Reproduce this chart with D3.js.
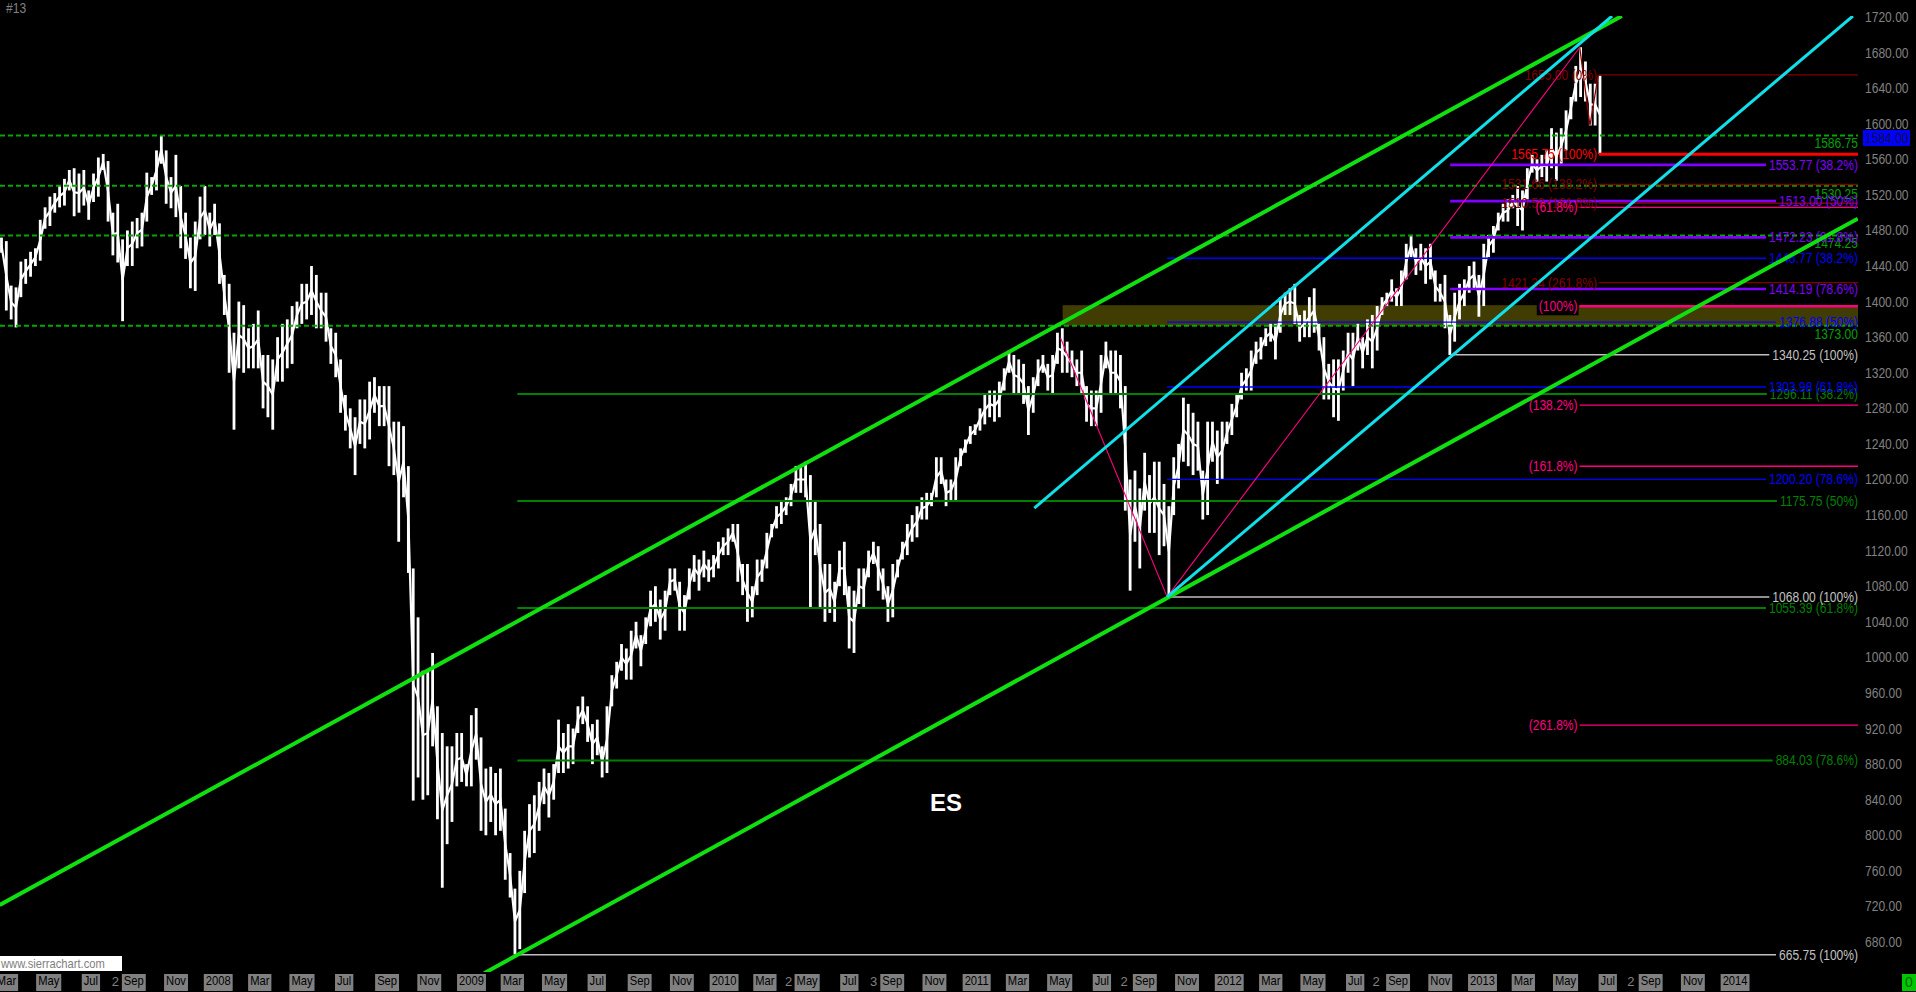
<!DOCTYPE html>
<html><head><meta charset="utf-8">
<script src="https://cdn.jsdelivr.net/npm/d3@7"></script>
<style>
html,body{margin:0;padding:0;background:#000;overflow:hidden}
svg{display:block}
text{font-family:"Liberation Sans",Arial,sans-serif}
</style></head><body>
<svg id="c" width="1916" height="992"></svg>
<script>
// ---------------- DATA ----------------
// weekly [high, low] of ES, one array per year; first Monday of each list below
const yearFirstWeek = ["2007-02-19","2008-01-07","2009-01-05","2010-01-04","2011-01-03","2012-01-02","2012-12-31"];
const bars2007 = [[1472,1455],[1468,1390],[1418,1380],[1416,1371],[1445,1405],[1448,1420],[1456,1428],[1460,1440],[1492,1446],[1506,1482],[1518,1485],[1522,1500],[1531,1506],[1538,1508],[1548,1525],[1550,1496],[1544,1500],[1548,1508],[1525,1492],[1544,1512],[1562,1518],[1566,1548],[1558,1490],[1500,1452],[1510,1444],[1470,1378],[1480,1440],[1490,1440],[1494,1460],[1500,1462],[1545,1490],[1540,1520],[1570,1525],[1587,1555],[1570,1510],[1540,1505],[1565,1495],[1530,1460],[1500,1448],[1472,1415],[1490,1412],[1518,1470],[1530,1475],[1500,1462],[1510,1475],[1488,1420]];
const bars2008 = [[1430,1385],[1420,1320],[1365,1256],[1400,1325],[1396,1320],[1370,1325],[1375,1325],[1390,1325],[1340,1280],[1340,1270],[1335,1256],[1360,1310],[1375,1310],[1380,1325],[1395,1330],[1400,1370],[1420,1375],[1420,1380],[1440,1385],[1430,1370],[1410,1370],[1410,1355],[1370,1330],[1365,1315],[1335,1275],[1295,1255],[1280,1235],[1270,1205],[1290,1240],[1290,1235],[1310,1245],[1315,1275],[1305,1260],[1305,1260],[1305,1215],[1265,1205],[1265,1130],[1260,1180],[1215,1095],[1100,839],[1045,865],[985,840],[985,845],[1005,900],[945,818],[915,741],[900,790],[900,815],[915,855],[915,860],[880,855],[935,855]];
const bars2009 = [[943,885],[910,805],[875,800],[877,815],[870,800],[875,805],[830,750],[780,730],[740,666],[760,672],[805,735],[835,775],[845,780],[860,805],[875,835],[870,820],[880,840],[930,870],[915,870],[925,875],[920,880],[945,915],[956,925],[945,905],[925,880],[930,890],[900,865],[945,870],[980,945],[995,965],[1015,985],[1010,975],[1030,975],[1040,1010],[1025,990],[1045,1015],[1075,1035],[1080,1040],[1065,1020],[1075,1030],[1100,1070],[1100,1075],[1085,1030],[1070,1030],[1100,1065],[1115,1085],[1110,1075],[1120,1090],[1110,1085],[1115,1090],[1130,1100],[1135,1115]];
const bars2010 = [[1145,1115],[1150,1130],[1150,1085],[1105,1070],[1105,1040],[1080,1045],[1110,1070],[1110,1085],[1140,1100],[1150,1135],[1170,1145],[1175,1150],[1180,1160],[1195,1170],[1215,1185],[1215,1185],[1220,1180],[1205,1056],[1175,1115],[1150,1055],[1105,1040],[1105,1050],[1085,1040],[1120,1080],[1130,1070],[1080,1010],[1075,1005],[1100,1060],[1100,1055],[1120,1090],[1130,1105],[1125,1075],[1100,1065],[1080,1040],[1105,1045],[1110,1090],[1130,1110],[1150,1115],[1160,1130],[1170,1135],[1180,1155],[1185,1155],[1185,1170],[1225,1180],[1225,1195],[1200,1170],[1200,1175],[1225,1175],[1235,1215],[1245,1230],[1260,1240],[1262,1250]];
const bars2011 = [[1280,1255],[1295,1262],[1300,1270],[1300,1265],[1310,1270],[1325,1300],[1345,1320],[1340,1295],[1335,1295],[1330,1285],[1305,1250],[1315,1275],[1335,1305],[1340,1320],[1330,1300],[1340,1295],[1365,1330],[1370,1320],[1355,1320],[1345,1315],[1335,1305],[1345,1295],[1305,1265],[1300,1260],[1300,1260],[1340,1275],[1355,1325],[1345,1295],[1345,1295],[1340,1280],[1305,1165],[1200,1075],[1210,1130],[1190,1100],[1230,1165],[1205,1140],[1220,1140],[1220,1115],[1195,1125],[1170,1068],[1225,1160],[1240,1190],[1292,1220],[1285,1215],[1275,1205],[1265,1210],[1210,1155],[1265,1160],[1265,1220],[1255,1195],[1265,1200],[1265,1240]];
const bars2012 = [[1285,1250],[1295,1270],[1320,1290],[1325,1300],[1345,1300],[1355,1330],[1360,1335],[1370,1350],[1375,1355],[1375,1335],[1405,1365],[1410,1385],[1415,1385],[1420,1375],[1385,1355],[1390,1360],[1405,1360],[1415,1365],[1375,1345],[1360,1290],[1330,1290],[1335,1270],[1335,1266],[1345,1300],[1365,1320],[1365,1305],[1375,1345],[1360,1325],[1380,1340],[1385,1325],[1395,1345],[1405,1385],[1410,1395],[1425,1400],[1415,1395],[1435,1395],[1465,1425],[1475,1450],[1460,1430],[1465,1435],[1460,1420],[1465,1425],[1435,1400],[1420,1400],[1430,1370],[1385,1340],[1410,1355],[1420,1380],[1425,1395],[1440,1410],[1445,1415],[1430,1383]];
const bars2013 = [[1465,1395],[1475,1450],[1485,1455],[1500,1480],[1510,1490],[1515,1490],[1520,1505],[1530,1485],[1525,1480],[1550,1515],[1565,1545],[1560,1535],[1565,1540],[1570,1535],[1595,1550],[1590,1536],[1595,1555],[1615,1570],[1630,1605],[1665,1625],[1686,1630],[1670,1625],[1645,1598],[1645,1598],[1654,1566]];
const lastPrice = 1584.00;

const yTicks = [1720,1680,1640,1600,1560,1520,1480,1440,1400,1360,1320,1280,1240,1200,1160,1120,1080,1040,1000,960,920,880,840,800,760,720,680];
const minorTickDates = ["2007-08-06","2010-04-05","2010-08-06","2011-08-03","2012-08-01","2013-08-04"];
const minorTickText = ["2","2","3","2","2","2"];

const dashedLevels = [1586.75, 1530.25, 1474.25, 1373.00];

const fibPct = ["38.2%","50%","61.8%","78.6%","100%"];
const fibGreen = [1296.11, 1175.75, 1055.39, 884.03, 665.75];
const fibBlue = [1448.77, 1376.88, 1303.98, 1200.20, 1068.00];
const fibPurple = [1553.77, 1513.00, 1472.23, 1414.19, 1340.25];
const fibStart = ["2009-03-09", "2011-10-04", "2012-11-16"];

const extRedPct = ["0%","100%","138.2%","161.8%","261.8%"];
const extRed = [1655.00, 1565.75, 1531.66, 1510.59, 1421.34];
const extRedStart = "2013-06-19";
const extPinkPct = ["61.8%","100%","138.2%","161.8%","261.8%"];
const extPink = [1505.9, 1394.75, 1283.6, 1214.9, 923.9];
const extPinkStart = "2013-05-22";

const zoneStart = "2011-05-06", zoneLow = 1373, zoneHigh = 1396;

const greenUpper = [["2007-02-20", 721.6], ["2013-07-22", 1721.1]];
const greenLower = [["2009-01-20", 645.0], ["2014-06-28", 1493.3]];
const cyanUpper = [["2011-03-26", 1167.9], ["2013-07-08", 1721.1]];
const cyanLower = [["2011-10-04", 1068.0], ["2014-06-21", 1721.1]];
const pinkZig = [["2011-05-03", 1359], ["2011-10-04", 1068], ["2013-05-22", 1685.75]];
const redZig = [["2013-05-22", 1687.25], ["2013-06-06", 1598], ["2013-06-18", 1655]];

// ---------------- CHART ----------------
const W = 1916, H = 992, plotRight = 1858, plotTop = 16, plotBottom = 972;
const K = 0.86; // horizontal condensing of the chart font
const parse = d3.timeParse("%Y-%m-%d");
const fmt2 = d3.format(".2f");
const x = d3.scaleTime().domain([new Date(2009,0,1), new Date(2013,0,1)]).range([471, 1482]);
const y = d3.scaleLinear().domain([680, 1720]).range([942, 17]);
const FS = "14px";

function narrow(t){
  const L = t.node().getComputedTextLength();
  t.attr("textLength", L*K).attr("lengthAdjust","spacingAndGlyphs");
  return L*K;
}

const weeks = [];
[bars2007,bars2008,bars2009,bars2010,bars2011,bars2012,bars2013].forEach((arr,k)=>{
  const d0 = parse(yearFirstWeek[k]);
  arr.forEach((hl,i)=>weeks.push({date:d3.timeDay.offset(d0,7*i), hi:hl[0], lo:hl[1]}));
});
const mid = d => (x(d.date) + x(d3.timeDay.offset(d.date,7))) / 2;

const svg = d3.select("#c");
svg.append("rect").attr("width",W).attr("height",H).attr("fill","#000");
svg.append("defs").append("clipPath").attr("id","plot").append("rect")
  .attr("x",0).attr("y",plotTop).attr("width",plotRight).attr("height",plotBottom-plotTop);
const plot = svg.append("g").attr("clip-path","url(#plot)");

// zone
const zx = x(parse(zoneStart));
plot.append("rect").attr("x",zx).attr("y",y(zoneHigh)).attr("width",plotRight-zx)
  .attr("height",y(zoneLow)-y(zoneHigh)).attr("fill","#403c02");

// price: weekly high-low bars joined by a mid line
const pg = plot.append("g");
pg.append("path")
  .attr("d", d3.line().x(mid).y(d=>y((d.hi+d.lo)/2))(weeks))
  .attr("fill","none").attr("stroke","#fff").attr("stroke-width",2.2);
pg.selectAll("rect").data(weeks).join("rect")
  .attr("x",d=>mid(d)-1.4).attr("width",2.8)
  .attr("y",d=>y(d.hi)).attr("height",d=>Math.max(1,y(d.lo)-y(d.hi)))
  .attr("fill","#ffffff");

const line = d3.line().x(d=>x(parse(d[0]))).y(d=>y(d[1]));
plot.append("path").attr("d",line(redZig)).attr("fill","none").attr("stroke","#900000").attr("stroke-width",1.3);

const hl = plot.append("g");
const labels = svg.append("g").attr("font-size",FS);

// dashed levels
dashedLevels.forEach(v=>{
  hl.append("line").attr("x1",0).attr("x2",plotRight).attr("y1",y(v)).attr("y2",y(v))
    .attr("stroke","#00a800").attr("stroke-width",2).attr("stroke-dasharray","5,3");
  narrow(labels.append("text").attr("x",plotRight).attr("y",y(v)+8).attr("dy","0.35em")
    .attr("text-anchor","end").attr("fill","#00a000").text(fmt2(v)));
});

// retracements
const fibSets = [
  {levels:fibGreen, start:fibStart[0], color:"#008000", width:2},
  {levels:fibBlue, start:fibStart[1], color:"#0000ff", width:1.3},
  {levels:fibPurple, start:fibStart[2], color:"#8000ff", width:2.6}
];
fibSets.forEach(s=>{
  s.levels.forEach((v,i)=>{
    const base = i===s.levels.length-1;
    const col = base ? "#c0c0c0" : s.color;
    const t = labels.append("text").attr("x",plotRight).attr("y",y(v)).attr("dy","0.35em")
      .attr("text-anchor","end").attr("fill",col).text(`${fmt2(v)} (${fibPct[i]})`);
    const len = narrow(t);
    hl.append("line").attr("x1",x(parse(s.start))).attr("x2",plotRight-len-3)
      .attr("y1",y(v)).attr("y2",y(v)).attr("stroke",col).attr("stroke-width",base?1.5:s.width);
  });
});

// extensions
const extSets = [
  {levels:extRed, pct:extRedPct, start:extRedStart, value:true, color:"#800000", main:"#ff0000", mainW:3},
  {levels:extPink, pct:extPinkPct, start:extPinkStart, value:false, color:"#ff0080", main:"#ff0080", mainW:2.5}
];
extSets.forEach(s=>{
  const sx = x(parse(s.start));
  s.levels.forEach((v,i)=>{
    const isMain = s.pct[i]==="100%";
    const col = isMain ? s.main : s.color;
    hl.append("line").attr("x1",sx).attr("x2",plotRight).attr("y1",y(v)).attr("y2",y(v))
      .attr("stroke",col).attr("stroke-width",isMain?s.mainW:1.3);
    const txt = s.value ? `${fmt2(v)} (${s.pct[i]})` : `(${s.pct[i]})`;
    const t = labels.append("text").attr("x",sx-2).attr("y",y(v)).attr("dy","0.35em")
      .attr("text-anchor","end").attr("fill",col).text(txt);
    const len = narrow(t);
    if (!s.value && isMain) {
      labels.insert("rect", () => t.node()).attr("x",sx-2-len-2).attr("y",y(v)-9)
        .attr("width",len+3).attr("height",18).attr("fill","#000");
    }
  });
});

// pink zigzag & trend lines
const trends = svg.append("g").attr("clip-path","url(#plot)");
trends.append("path").attr("d",line(pinkZig)).attr("fill","none").attr("stroke","#ff0080").attr("stroke-width",1.1);
[[greenUpper,"#10e010",4],[greenLower,"#10e010",4],[cyanUpper,"#10e0ea",3],[cyanLower,"#10e0ea",3]].forEach(([pts,c,w])=>{
  trends.append("path").attr("d",line(pts)).attr("fill","none").attr("stroke",c).attr("stroke-width",w);
});

// Y axis
const yAxis = svg.append("g").attr("transform",`translate(1865,0)`)
  .call(d3.axisRight(y).tickValues(yTicks).tickFormat(fmt2).tickSize(0).tickPadding(0));
yAxis.attr("font-family",null).attr("font-size",FS);
yAxis.select(".domain").remove();
yAxis.selectAll("text").attr("fill","#808080").each(function(){ narrow(d3.select(this)); });

// current price marker
svg.append("rect").attr("x",1863).attr("y",y(lastPrice)-8).attr("width",47).attr("height",16).attr("fill","#0000ff");
narrow(svg.append("text").attr("x",1865).attr("y",y(lastPrice)).attr("dy","0.35em").attr("font-size",FS)
  .attr("fill","#101040").text(fmt2(lastPrice)));

// X axis
const xTickDates = d3.timeMonth.every(2).range(new Date(2007,2,1), new Date(2014,0,2));
const fmtTick = d => d.getMonth()===0 ? d3.timeFormat("%Y")(d) : d3.timeFormat("%b")(d);
const xAxis = svg.append("g").attr("transform",`translate(0,${plotBottom+1})`)
  .call(d3.axisBottom(x).tickValues(xTickDates).tickFormat(fmtTick).tickSize(0).tickPadding(3));
xAxis.attr("font-family",null).attr("font-size","13px");
xAxis.select(".domain").remove();
xAxis.selectAll(".tick").each(function(){
  const g = d3.select(this), t = g.select("text").attr("fill","#000");
  const len = narrow(t);
  g.insert("rect","text").attr("x",-len/2-2).attr("y",1).attr("width",len+4).attr("height",17).attr("fill","#808080");
});
minorTickDates.forEach((d,i)=>{
  svg.append("text").attr("x",x(parse(d))).attr("y",plotBottom+14).attr("text-anchor","middle")
    .attr("font-size","13px").attr("fill","#808080").text(minorTickText[i]);
});

// misc texts
narrow(svg.append("text").attr("x",6).attr("y",13).attr("font-size","14px").attr("fill","#808080").text("#13"));
svg.append("text").attr("x",930).attr("y",811).attr("font-size","24px").attr("font-weight","bold")
  .attr("fill","#ffffff").text("ES");
svg.append("rect").attr("x",0).attr("y",956).attr("width",122).attr("height",15).attr("fill","#ffffff");
narrow(svg.append("text").attr("x",1).attr("y",968).attr("font-size","13px").attr("fill","#808080").text("www.sierrachart.com"));
svg.append("rect").attr("x",1902).attr("y",974).attr("width",14).attr("height",17).attr("fill","#00c800");
svg.append("text").attr("x",1909).attr("y",987).attr("text-anchor","middle").attr("font-size","14px").attr("fill","#006000").text("0");
</script></body></html>
